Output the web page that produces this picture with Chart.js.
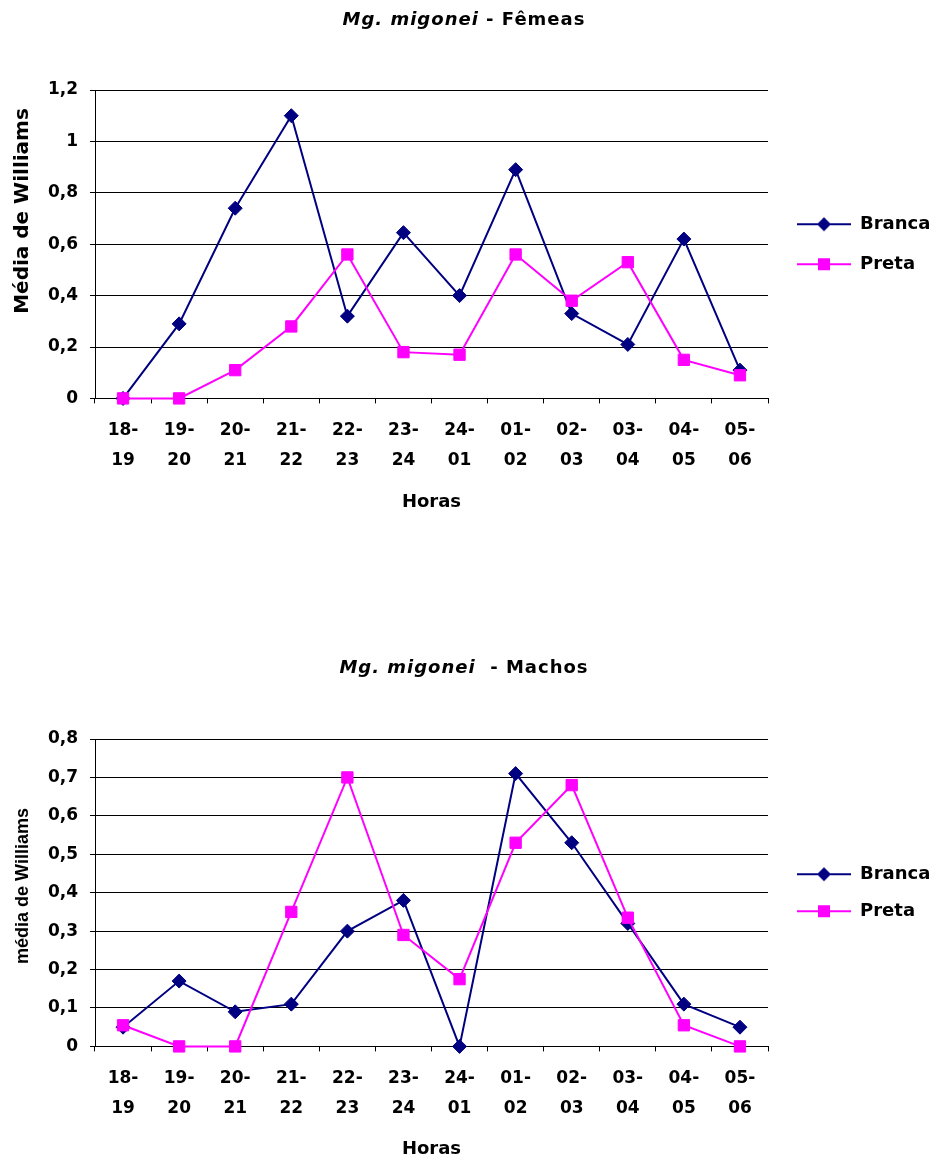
<!DOCTYPE html>
<html lang="pt">
<head>
<meta charset="utf-8">
<title>Mg. migonei - Fêmeas e Machos</title>
<script src="https://cdn.jsdelivr.net/npm/chart.js@4/dist/chart.umd.min.js"></script>
<style>
  html, body { margin: 0; padding: 0; background: #fff; overflow: hidden; }
  #page { position: relative; width: 939px; height: 1160px; }
  canvas { position: absolute; left: 0; }
  .titulo {
    position: absolute; left: 0; width: 928px; text-align: center;
    font: bold 18px 'DejaVu Sans'; letter-spacing: 1px; line-height: 24px; color: #000;
    white-space: pre;
  }
</style>
</head>
<body>
<div id="page">
  <canvas id="femeas" width="939" height="580" style="top:0"></canvas>
  <canvas id="machos" width="939" height="580" style="top:580px"></canvas>
  <div class="titulo" style="top:7px"><i>Mg. migonei</i> - Fêmeas</div>
  <div class="titulo" style="top:655px"><i>Mg. migonei</i>  - Machos</div>
</div>
<script>
// Intervalos horários de captura
const horas = ['18-19', '19-20', '20-21', '21-22', '22-23', '23-24',
               '24-01', '01-02', '02-03', '03-04', '04-05', '05-06'];

// Média de Williams – fêmeas
const femeasBranca = [0, 0.29, 0.74, 1.10, 0.32, 0.645, 0.40, 0.89, 0.33, 0.21, 0.62, 0.11];
const femeasPreta  = [0, 0, 0.11, 0.28, 0.56, 0.18, 0.17, 0.56, 0.38, 0.53, 0.15, 0.09];

// Média de Williams – machos
const machosBranca = [0.05, 0.17, 0.09, 0.11, 0.30, 0.38, 0, 0.71, 0.53, 0.32, 0.11, 0.05];
const machosPreta  = [0.055, 0, 0, 0.35, 0.70, 0.29, 0.175, 0.53, 0.68, 0.335, 0.055, 0];

// Rótulos do eixo Y (vírgula decimal)
const ticksFemeas = ['0', '0,2', '0,4', '0,6', '0,8', '1', '1,2'];
const ticksMachos = ['0', '0,1', '0,2', '0,3', '0,4', '0,5', '0,6', '0,7', '0,8'];

const AZUL = '#000080';
const MAGENTA = '#FF00FF';

Chart.defaults.font.family = "'DejaVu Sans'";
Chart.defaults.font.weight = 'bold';
Chart.defaults.color = '#000';

// Small line-with-marker swatch used as the legend symbol
function legendSwatch(color, shape, offset, width) {
  const c = document.createElement('canvas');
  c.width = width; c.height = 16;
  const g = c.getContext('2d');
  g.strokeStyle = color; g.lineWidth = 2;
  g.beginPath(); g.moveTo(offset, 8); g.lineTo(width, 8); g.stroke();
  const cx = offset + (width - offset) / 2;
  g.fillStyle = color;
  g.beginPath();
  if (shape === 'diamond') {
    g.moveTo(cx - 7, 8); g.lineTo(cx, 1); g.lineTo(cx + 7, 8); g.lineTo(cx, 15); g.closePath();
  } else {
    g.rect(cx - 6, 2, 12, 12);
  }
  g.fill();
  return c;
}

// Rotated caption for the value axis
const yCaption = {
  id: 'yCaption',
  afterDraw(chart, args, opts) {
    const ctx = chart.ctx;
    ctx.save();
    ctx.translate(opts.x, opts.y);
    ctx.rotate(-Math.PI / 2);
    ctx.font = opts.font;
    ctx.fillStyle = '#000';
    ctx.textAlign = 'center';
    ctx.textBaseline = 'middle';
    ctx.fillText(opts.text, 0, 0);
    ctx.restore();
  }
};

function buildChart(id, cfg) {
  const swatches = [
    legendSwatch(AZUL, 'diamond', cfg.swOffset, cfg.swWidth),
    legendSwatch(MAGENTA, 'square', cfg.swOffset, cfg.swWidth)
  ];
  return new Chart(document.getElementById(id), {
    type: 'line',
    data: {
      labels: horas.map(h => [h.slice(0, 3), h.slice(3)]),
      datasets: [
        {
          label: 'Branca', data: cfg.branca,
          borderColor: AZUL, backgroundColor: AZUL, borderWidth: 2,
          pointStyle: 'rectRot', pointRadius: 7, pointBorderWidth: 1,
          pointBackgroundColor: AZUL, pointBorderColor: AZUL,
          tension: 0, order: 1, clip: false
        },
        {
          label: 'Preta', data: cfg.preta,
          borderColor: MAGENTA, backgroundColor: MAGENTA, borderWidth: 2,
          pointStyle: 'rect', pointRadius: 8, pointBorderWidth: 1,
          pointBackgroundColor: MAGENTA, pointBorderColor: MAGENTA,
          tension: 0, order: 0, clip: false
        }
      ]
    },
    options: {
      responsive: false,
      animation: false,
      devicePixelRatio: 1,
      layout: { padding: { top: cfg.padTop, bottom: cfg.padBottom, left: 0, right: 0 } },
      scales: {
        x: {
          offset: true,
          grid: { offset: true, drawOnChartArea: false, color: '#000', tickLength: 5 },
          border: { color: '#000' },
          ticks: { color: '#000', font: { size: 17, lineHeight: '30px' }, padding: 12, maxRotation: 0, minRotation: 0, autoSkip: false },
          title: { display: true, text: 'Horas', color: '#000', font: { size: 18 }, padding: { top: cfg.horasPad, bottom: 0 } }
        },
        y: {
          min: 0, max: cfg.max,
          ticks: { stepSize: cfg.step, color: '#000', font: { size: 17 }, padding: 12,
                   callback: (v, i) => cfg.tickLabels[i] },
          grid: { color: '#000', tickLength: 5 },
          border: { color: '#000' },
          afterFit(s) { s.width = 95; }
        }
      },
      plugins: {
        tooltip: { enabled: false },
        legend: {
          position: 'right',
          fullSize: false,
          maxWidth: 171,
          labels: {
            color: '#000',
            font: { size: 18 },
            padding: cfg.legendPad,
            usePointStyle: true,
            pointStyleWidth: cfg.swWidth,
            generateLabels: chart => chart.data.datasets.map((ds, i) => ({
              text: ds.label, datasetIndex: i, hidden: false,
              pointStyle: swatches[i], lineWidth: 0,
              fillStyle: ds.borderColor, strokeStyle: ds.borderColor, fontColor: '#000'
            }))
          }
        },
        yCaption: cfg.caption
      }
    },
    plugins: [yCaption]
  });
}

buildChart('femeas', {
  branca: femeasBranca, preta: femeasPreta,
  max: 1.2, step: 0.2, tickLabels: ticksFemeas,
  padTop: 90, padBottom: 67, horasPad: 4,
  legendPad: 22, swOffset: 7, swWidth: 61,
  caption: { text: 'Média de Williams', x: 23, y: 211, font: "bold 20px 'DejaVu Sans'" }
});

buildChart('machos', {
  branca: machosBranca, preta: machosPreta,
  max: 0.8, step: 0.1, tickLabels: ticksMachos,
  padTop: 159, padBottom: 0, horasPad: 3,
  legendPad: 19, swOffset: 10, swWidth: 64,
  caption: { text: 'média de Williams', x: 23, y: 306, font: "bold 18px 'Liberation Sans'" }
});
</script>
</body>
</html>
